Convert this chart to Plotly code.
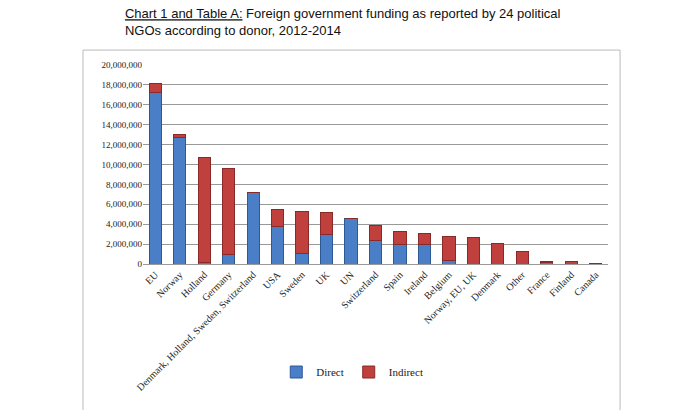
import plotly.graph_objects as go

donors = ['EU', 'Norway', 'Holland', 'Germany', 'Denmark, Holland, Sweden, Switzerland',
          'USA', 'Sweden', 'UK', 'UN', 'Switzerland', 'Spain', 'Ireland', 'Belgium',
          'Norway, EU, UK', 'Denmark', 'Other', 'France', 'Finland', 'Canada']
direct = [17200000, 12700000, 200000, 1000000, 7200000, 3800000, 1100000, 3000000,
          4600000, 2400000, 2000000, 2000000, 400000, 0, 0, 0, 150000, 0, 0]
indirect = [900000, 300000, 10500000, 8600000, 0, 1700000, 4200000, 2200000,
            0, 1500000, 1300000, 1100000, 2400000, 2700000, 2100000, 1300000, 150000, 250000, 60000]
yticks = list(range(0, 20000001, 2000000))

serif = 'Liberation Serif'
fig = go.Figure()
fig.add_bar(x=donors, y=direct, name='Direct', marker=dict(color='#4a7fc8', line=dict(color='#2d5a96', width=1)))
fig.add_bar(x=donors, y=indirect, name='Indirect', marker=dict(color='#c0403d', line=dict(color='#8a2a28', width=1)))

fig.update_layout(
    barmode='stack', bargap=0.5,
    width=696, height=410,
    paper_bgcolor='white', plot_bgcolor='white',
    margin=dict(l=135, r=96, t=57, b=154, autoexpand=False),
    font=dict(family=serif, size=9, color='#222'),
    showlegend=True,
    legend=dict(orientation='h', x=0.45, xanchor='center', y=-0.47, yanchor='top',
                font=dict(size=11), traceorder='normal'),
    title=dict(text='<span style="text-decoration:underline">Chart 1 and Table A:</span> Foreign government funding as reported by 24 political<br>NGOs according to donor, 2012-2014',
               x=0.168, xanchor='left', xref='container', y=0.975, yref='container', yanchor='top',
               font=dict(family='Liberation Sans', size=13, color='#111')),
    shapes=[dict(type='rect', xref='paper', yref='paper', x0=-0.129, x1=1.026, y0=-0.75, y1=1.075,
                 line=dict(color='#bbb', width=1))],
)
fig.update_yaxes(range=[0, 20000000], tickvals=yticks, tickformat=',', showgrid=True,
                 gridcolor='#999', showline=False, tickfont=dict(size=9, family=serif))
fig.update_xaxes(tickangle=-45, tickfont=dict(size=10, family=serif), showline=True,
                 linecolor='#999', automargin=False)
fig.write_html('out.html')
